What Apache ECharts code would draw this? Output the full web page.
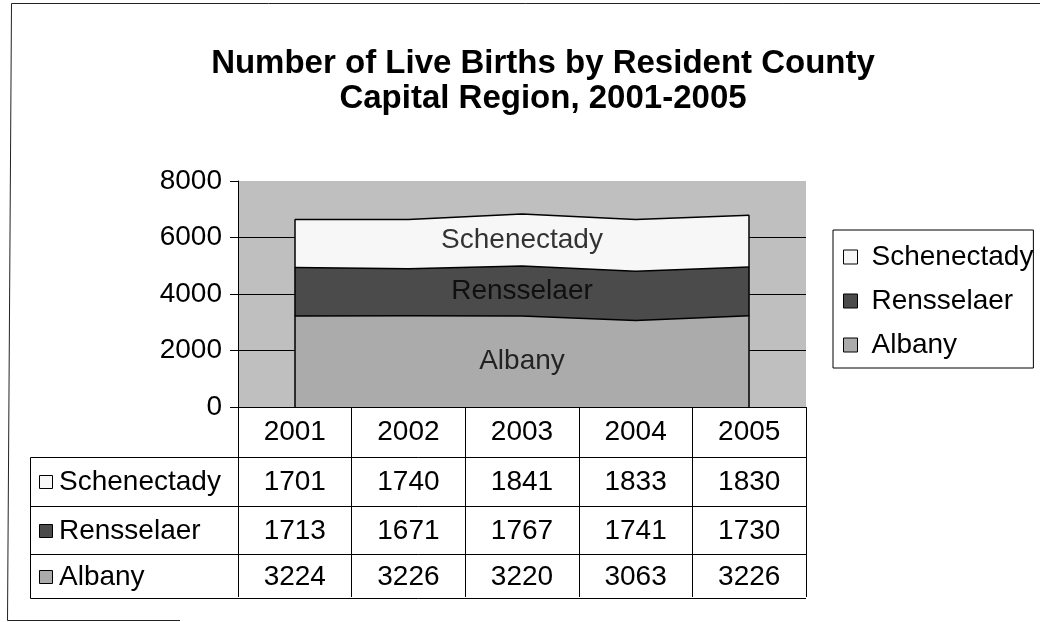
<!DOCTYPE html>
<html><head><meta charset="utf-8">
<script src="https://cdn.jsdelivr.net/npm/echarts@6/dist/echarts.min.js"></script>
<style>html,body{margin:0;padding:0;background:#fff}#c{width:1040px;height:622px}</style>
</head><body><div id="c"></div>
<script>
// ---- data ----
const years = ['2001', '2002', '2003', '2004', '2005'];
const schenectady = [1701, 1740, 1841, 1833, 1830];
const rensselaer = [1713, 1671, 1767, 1741, 1730];
const albany = [3224, 3226, 3220, 3063, 3226];
const yTickLabels = ['0', '2000', '4000', '6000', '8000'];
const titleLines = ['Number of Live Births by Resident County', 'Capital Region, 2001-2005'];

// ---- styling ----
const FONT = "'Liberation Sans', Arial, sans-serif";
const colors = { Albany: '#ababab', Rensselaer: '#4b4b4b', Schenectady: '#f7f7f7' };
const stackOrder = [['Albany', albany], ['Rensselaer', rensselaer], ['Schenectady', schenectady]];
const tableOrder = [['Schenectady', schenectady], ['Rensselaer', rensselaer], ['Albany', albany]];
const labelIndex = 2;

const chart = echarts.init(document.getElementById('c'), null, { renderer: 'canvas' });

// label positions at the middle of each band (from the data)
let cum = 0;
const labelData = stackOrder.map(([name, vals]) => {
  const mid = cum + vals[labelIndex] / 2;
  cum += vals[labelIndex];
  return { name: name, value: [years[labelIndex], mid] };
});
const totalAt = i => stackOrder.reduce((s, [, v]) => s + v[i], 0);
const last = years.length - 1;

const yMin = Number(yTickLabels[0]);
const yMax = Number(yTickLabels[yTickLabels.length - 1]);
const yStep = Number(yTickLabels[1]) - yMin;

const series = stackOrder.map(([name, vals]) => ({
  name: name,
  type: 'line',
  stack: 'total',
  data: vals,
  symbol: 'none',
  smooth: false,
  lineStyle: { color: '#000', width: 1.5 },
  itemStyle: { color: colors[name], borderColor: '#000', borderWidth: 1 },
  areaStyle: { color: colors[name], opacity: 1 },
  emphasis: { disabled: true },
  silent: true,
  z: 2
}));
series.push({
  name: 'bandLabels',
  type: 'scatter',
  data: labelData,
  symbolSize: 0,
  silent: true,
  z: 5,
  label: { show: true, position: 'inside', formatter: '{b}', fontSize: 28, color: '#000', fontFamily: FONT },
  markLine: {
    silent: true,
    symbol: ['none', 'none'],
    label: { show: false },
    lineStyle: { color: '#000', width: 1.5, type: 'solid' },
    data: [
      [{ coord: [years[0], 0] }, { coord: [years[0], totalAt(0)] }],
      [{ coord: [years[last], 0] }, { coord: [years[last], totalAt(last)] }]
    ]
  }
});

chart.setOption({
  animation: false,
  backgroundColor: '#fff',
  title: {
    text: titleLines.join('\n'),
    left: 543,
    top: 46,
    padding: 0,
    textAlign: 'center',
    textStyle: { fontSize: 33, fontWeight: 'bold', color: '#000', fontFamily: FONT, lineHeight: 35 }
  },
  legend: {
    data: tableOrder.map(d => d[0]),
    orient: 'vertical',
    left: 833,
    top: 230,
    padding: [13, 0, 9, 10],
    itemGap: 16,
    itemWidth: 14,
    itemHeight: 14,
    icon: 'rect',
    borderColor: '#000',
    borderWidth: 1,
    itemStyle: { borderColor: '#000', borderWidth: 1 },
    textStyle: { fontSize: 28, color: '#000', fontFamily: FONT, lineHeight: 28, padding: [0, 0, 0, 9] },
    selectedMode: false
  },
  grid: {
    left: 238, right: 234, top: 181, bottom: 215,
    show: true, backgroundColor: '#bfbfbf', borderWidth: 0
  },
  xAxis: {
    type: 'category',
    data: years,
    boundaryGap: true,
    axisLine: { show: true, lineStyle: { color: '#000', width: 1 } },
    axisTick: { show: true, length: 190, lineStyle: { color: '#000', width: 1 } },
    axisLabel: { fontSize: 28, color: '#000', margin: 11, fontFamily: FONT },
    splitLine: { show: false }
  },
  yAxis: {
    type: 'value',
    min: yMin, max: yMax, interval: yStep,
    axisLine: { show: true, lineStyle: { color: '#000', width: 1 } },
    axisTick: { show: true, length: 8, lineStyle: { color: '#000', width: 1 } },
    axisLabel: { fontSize: 28, color: '#000', margin: 16, fontFamily: FONT, formatter: v => String(v) },
    splitLine: { show: true, showMaxLine: false, lineStyle: { color: '#000', width: 1 } }
  },
  series: series
});

// ---- data table below the axis ----
const xs = years.map(y => chart.convertToPixel({ xAxisIndex: 0 }, y));
const tableLeft = 30.5, tableRight = 806;
const rowLines = [457.5, 506.5, 554.5, 598.5];
const rowCenters = [482, 531, 577];
const g = [];
rowLines.forEach(y => g.push({ type: 'line', silent: true, shape: { x1: tableLeft, y1: y, x2: tableRight, y2: y }, style: { stroke: '#000', lineWidth: 1 } }));
g.push({ type: 'line', silent: true, shape: { x1: tableLeft, y1: rowLines[0], x2: tableLeft, y2: rowLines[3] }, style: { stroke: '#000', lineWidth: 1 } });
tableOrder.forEach(([name, vals], r) => {
  const cy = rowCenters[r];
  g.push({ type: 'rect', silent: true, shape: { x: 39.5, y: cy - 6.5, width: 13, height: 13 }, style: { fill: colors[name], stroke: '#000', lineWidth: 1 } });
  g.push({ type: 'text', silent: true, x: 59, y: cy, style: { text: name, fontSize: 28, fontFamily: FONT, fill: '#000', verticalAlign: 'middle', align: 'left' } });
  vals.forEach((v, c) => {
    g.push({ type: 'text', silent: true, x: xs[c], y: cy, style: { text: String(v), fontSize: 28, fontFamily: FONT, fill: '#000', verticalAlign: 'middle', align: 'center' } });
  });
});
// outer frame of the scanned page
g.push({ type: 'polyline', silent: true, shape: { points: [[1040, 3.5], [11.5, 3.5], [7.5, 620.5], [180, 620.5]] }, style: { stroke: '#222', lineWidth: 1, fill: null } });
chart.setOption({ graphic: g });
</script>
</body></html>
